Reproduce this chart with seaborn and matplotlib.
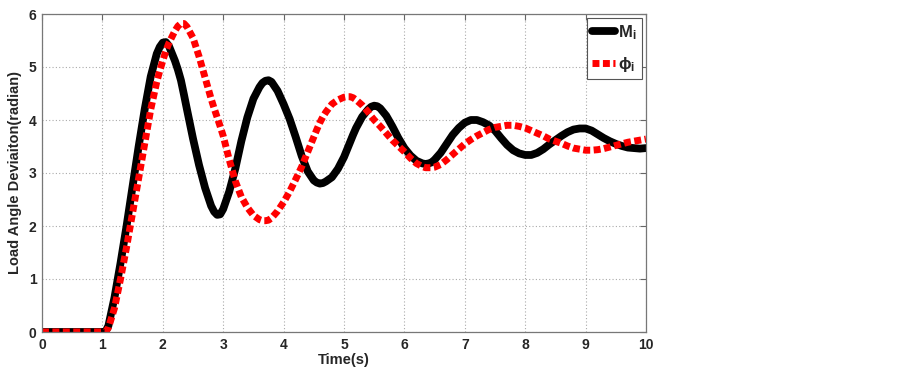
import numpy as np
import pandas as pd
import matplotlib
matplotlib.use('Agg')
import matplotlib.pyplot as plt
import seaborn as sns

# ============ Data ============
time_s = [0.0, 0.5, 1.0, 1.05, 1.1, 1.2, 1.3, 1.4, 1.5, 1.6, 1.7, 1.8, 1.9, 1.95, 2.0, 2.05, 2.1, 2.2, 2.25,
          2.3, 2.35, 2.4, 2.5, 2.6, 2.7, 2.8, 2.85, 2.9, 2.95, 3.0, 3.1, 3.2, 3.3, 3.4, 3.5, 3.6, 3.65,
          3.7, 3.75, 3.8, 3.9, 4.0, 4.1, 4.2, 4.3, 4.4, 4.5, 4.55, 4.6, 4.65, 4.7, 4.8, 4.9, 5.0, 5.05,
          5.1, 5.15, 5.2, 5.3, 5.4, 5.45, 5.5, 5.55, 5.6, 5.7, 5.8, 5.9, 6.0, 6.1, 6.2, 6.3, 6.35, 6.4,
          6.45, 6.5, 6.6, 6.7, 6.8, 6.9, 7.0, 7.1, 7.2, 7.3, 7.4, 7.5, 7.6, 7.7, 7.8, 7.9, 8.0, 8.1,
          8.2, 8.3, 8.4, 8.5, 8.6, 8.7, 8.8, 8.9, 9.0, 9.1, 9.2, 9.3, 9.4, 9.5, 9.6, 9.7, 9.8, 9.9, 10.0]

m_i = [0.0, 0.0, 0.0, 0.0, 0.12, 0.65, 1.3, 2.0, 2.75, 3.5, 4.2, 4.82, 5.25, 5.38, 5.46, 5.47, 5.4, 5.12, 4.95,
       4.75, 4.48, 4.2, 3.65, 3.15, 2.72, 2.38, 2.27, 2.21, 2.22, 2.32, 2.65, 3.08, 3.6, 4.05, 4.4, 4.62, 4.7,
       4.74, 4.75, 4.72, 4.55, 4.3, 4.02, 3.68, 3.32, 3.03, 2.86, 2.82, 2.8, 2.81, 2.84, 2.92, 3.08, 3.3, 3.44,
       3.58, 3.72, 3.85, 4.06, 4.2, 4.25, 4.27, 4.26, 4.22, 4.08, 3.88, 3.66, 3.47, 3.33, 3.23, 3.18, 3.17, 3.18,
       3.2, 3.25, 3.38, 3.55, 3.72, 3.85, 3.95, 4.0, 4.0, 3.96, 3.9, 3.8, 3.66, 3.53, 3.43, 3.37, 3.34, 3.34,
       3.38, 3.45, 3.54, 3.62, 3.7, 3.77, 3.82, 3.84, 3.84, 3.8, 3.73, 3.66, 3.6, 3.55, 3.51, 3.48, 3.47, 3.46,
       3.47]

phi_i = [0.0, 0.0, 0.0, 0.0, 0.08, 0.45, 1.0, 1.6, 2.25, 2.9, 3.55, 4.2, 4.72, 4.93, 5.12, 5.3, 5.45, 5.68, 5.77,
         5.82, 5.82, 5.76, 5.55, 5.2, 4.8, 4.4, 4.22, 4.05, 3.88, 3.7, 3.25, 2.85, 2.55, 2.35, 2.2, 2.12, 2.1,
         2.1, 2.11, 2.15, 2.28, 2.45, 2.65, 2.88, 3.12, 3.4, 3.68, 3.82, 3.95, 4.06, 4.15, 4.3, 4.38, 4.43, 4.44,
         4.44, 4.42, 4.38, 4.28, 4.15, 4.07, 4.0, 3.94, 3.88, 3.75, 3.62, 3.51, 3.4, 3.28, 3.18, 3.12, 3.1, 3.1,
         3.1, 3.11, 3.16, 3.25, 3.35, 3.45, 3.55, 3.63, 3.7, 3.76, 3.82, 3.86, 3.88, 3.9, 3.9, 3.88, 3.85, 3.8,
         3.75, 3.7, 3.64, 3.6, 3.56, 3.51, 3.47, 3.45, 3.43, 3.43, 3.44, 3.46, 3.49, 3.52, 3.55, 3.58, 3.6, 3.62,
         3.64]

x_ticks = [0, 1, 2, 3, 4, 5, 6, 7, 8, 9, 10]
y_ticks = [0, 1, 2, 3, 4, 5, 6]

df = pd.DataFrame({'t': time_s, 'M': m_i, 'phi': phi_i})

# ============ Style ============
sns.set_style('white')
plt.rcParams['font.family'] = ['Liberation Sans', 'DejaVu Sans']
plt.rcParams['font.weight'] = 'bold'
plt.rcParams['mathtext.fontset'] = 'custom'
plt.rcParams['mathtext.rm'] = 'Liberation Sans:bold'
plt.rcParams['mathtext.it'] = 'Liberation Sans:bold'
plt.rcParams['mathtext.bf'] = 'Liberation Sans:bold'
plt.rcParams['mathtext.fallback'] = 'stixsans'

fig = plt.figure(figsize=(9.02, 3.75), dpi=100)
ax = fig.add_axes([42 / 902, 43 / 375, 604 / 902, 318 / 375])

sns.lineplot(data=df, x='t', y='M', ax=ax, color='black', linewidth=5.6,
             label=r'$\mathrm{M_i}$', sort=False)
sns.lineplot(data=df, x='t', y='phi', ax=ax, color='#ff0000', linewidth=5.0,
             linestyle=(0, (1.0, 0.5)), label=r'$\phi_\mathrm{i}$', sort=False)

# ============ Axes ============
ax.set_xlim(0, 10)
ax.set_ylim(0, 6)
ax.set_xticks(x_ticks)
ax.set_yticks(y_ticks)
ax.set_xlabel('Time(s)', fontsize=10.5, fontweight='bold', labelpad=1)
ax.set_ylabel('Load Angle Deviaiton(radian)', fontsize=10.5, fontweight='bold', labelpad=5)
ax.tick_params(direction='in', length=4, width=0.8, top=True, right=True,
               labelsize=10, color='#666666', pad=4)
for lbl in ax.get_xticklabels() + ax.get_yticklabels():
    lbl.set_fontweight('bold')
for sp in ax.spines.values():
    sp.set_color('#777777')
    sp.set_linewidth(0.9)
ax.grid(True, color='#aaaaaa', linestyle=(0, (1, 2)), linewidth=0.8)

leg = ax.legend(loc='upper right', fontsize=12, handlelength=1.4, labelspacing=0.8,
                borderpad=0.3, handletextpad=0.2, fancybox=False, framealpha=1,
                edgecolor='#555555', borderaxespad=0.25)
leg.get_frame().set_linewidth(0.8)

fig.savefig('out.png', dpi=100)
